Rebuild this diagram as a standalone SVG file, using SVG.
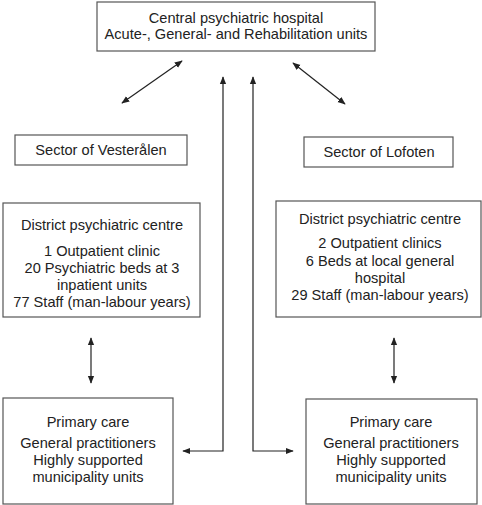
<svg xmlns="http://www.w3.org/2000/svg" width="482" height="505" viewBox="0 0 482 505">
<defs>
<style>
.box{fill:#fff;stroke:#555;stroke-width:1.2}
.t{font-family:"Liberation Sans",Arial,sans-serif;font-size:14.6px;fill:#222;text-anchor:middle}
.c{fill:none;stroke:#222;stroke-width:1.2}
</style>
<marker id="ah" viewBox="0 0 10 10" refX="9" refY="5" markerWidth="8" markerHeight="8" orient="auto-start-reverse" markerUnits="userSpaceOnUse">
<path d="M0,1 L10,5 L0,9 Z" fill="#222"/>
</marker>
</defs>
<rect width="482" height="505" fill="#fff"/>
<g id="connectors">
<line class="c" x1="182" y1="61" x2="122" y2="103" marker-start="url(#ah)" marker-end="url(#ah)"/>
<line class="c" x1="293" y1="63" x2="345" y2="104" marker-start="url(#ah)" marker-end="url(#ah)"/>
<polyline class="c" points="223,77 223,451 183,451" marker-start="url(#ah)" marker-end="url(#ah)"/>
<polyline class="c" points="253,77 253,451 293,451" marker-start="url(#ah)" marker-end="url(#ah)"/>
<line class="c" x1="91" y1="338" x2="91" y2="383" marker-start="url(#ah)" marker-end="url(#ah)"/>
<line class="c" x1="394" y1="338" x2="394" y2="383" marker-start="url(#ah)" marker-end="url(#ah)"/>
</g>
<g id="central">
<rect class="box" x="97" y="2" width="278" height="49"/>
<text class="t" x="236" y="23">Central psychiatric hospital</text>
<text class="t" x="236" y="39">Acute-, General- and Rehabilitation units</text>
</g>
<g id="vesteralen">
<rect class="box" x="15" y="135" width="172" height="30"/>
<text class="t" x="101" y="155">Sector of Vesterålen</text>
</g>
<g id="lofoten">
<rect class="box" x="304" y="137" width="149" height="30"/>
<text class="t" x="379" y="157">Sector of Lofoten</text>
</g>
<g id="district-left">
<rect class="box" x="3" y="203" width="197" height="114"/>
<text class="t" x="102" y="230">District psychiatric centre</text>
<text class="t" x="102" y="256">1 Outpatient clinic</text>
<text class="t" x="102" y="273">20 Psychiatric beds at 3</text>
<text class="t" x="102" y="290">inpatient units</text>
<text class="t" x="102" y="307">77 Staff (man-labour years)</text>
</g>
<g id="district-right">
<rect class="box" x="276" y="201" width="205" height="116"/>
<text class="t" x="380" y="224">District psychiatric centre</text>
<text class="t" x="380" y="248">2 Outpatient clinics</text>
<text class="t" x="380" y="266">6 Beds at local general</text>
<text class="t" x="380" y="283">hospital</text>
<text class="t" x="380" y="300">29 Staff (man-labour years)</text>
</g>
<g id="primary-left">
<rect class="box" x="3" y="398" width="170" height="106"/>
<text class="t" x="88" y="427">Primary care</text>
<text class="t" x="88" y="448">General practitioners</text>
<text class="t" x="88" y="465">Highly supported</text>
<text class="t" x="88" y="482">municipality units</text>
</g>
<g id="primary-right">
<rect class="box" x="306" y="399" width="171" height="105"/>
<text class="t" x="391" y="427">Primary care</text>
<text class="t" x="391" y="448">General practitioners</text>
<text class="t" x="391" y="465">Highly supported</text>
<text class="t" x="391" y="482">municipality units</text>
</g>
</svg>
